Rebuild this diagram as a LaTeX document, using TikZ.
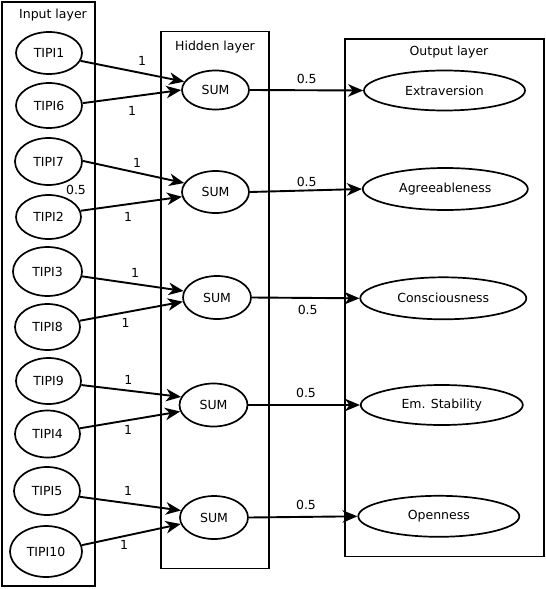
\documentclass[tikz,border=0pt]{standalone}
\usepackage{fontspec}
\setmainfont{DejaVu Sans}
\usetikzlibrary{shapes.geometric,arrows.meta}
\begin{document}
\begin{tikzpicture}[x=1pt,y=-1pt,
  every node/.style={font=\fontsize{12.5}{14}\selectfont},
  ell/.style={draw,ellipse,line width=1.7pt,inner sep=0pt},
  layerbox/.style={draw,line width=1.9pt},
  conn/.style={line width=1.9pt,-{Stealth[length=15pt,width=12.5pt,inset=4.5pt]}},
  wt/.style={inner sep=0pt}]
\useasboundingbox (0,0) rectangle (546,589);
% layer boxes
\draw[layerbox] (2,2) rectangle (95,586);
\draw[layerbox] (161,31.5) rectangle (269,568.5);
\draw[layerbox] (345,39) rectangle (544,556.5);
\node (tin) at (53,15) {Input layer};
\node (thid) at (215,47) {Hidden layer};
\node (tout) at (449,52.5) {Output layer};
% input nodes
\node[ell,minimum width=66pt,minimum height=42pt] (in1) at (49,53) {TIPI1};
\node[ell,minimum width=66pt,minimum height=45pt] (in6) at (49,105.5) {TIPI6};
\node[ell,minimum width=67pt,minimum height=47pt] (in7) at (48.5,161.5) {TIPI7};
\node[ell,minimum width=65pt,minimum height=44pt] (in2) at (48.5,217) {TIPI2};
\node[ell,minimum width=69pt,minimum height=49pt] (in3) at (47.5,271.5) {TIPI3};
\node[ell,minimum width=65pt,minimum height=46pt] (in8) at (47.5,327) {TIPI8};
\node[ell,minimum width=65pt,minimum height=46pt] (in9) at (48.5,381) {TIPI9};
\node[ell,minimum width=65pt,minimum height=47pt] (in4) at (47.5,434) {TIPI4};
\node[ell,minimum width=66pt,minimum height=48pt] (in5) at (47,491) {TIPI5};
\node[ell,minimum width=72pt,minimum height=51pt] (in10) at (46,551.5) {TIPI10};
% hidden nodes
\node[ell,minimum width=67pt,minimum height=39pt] (s1) at (215.5,90) {SUM};
\node[ell,minimum width=67pt,minimum height=42pt] (s2) at (215.5,192) {SUM};
\node[ell,minimum width=68pt,minimum height=43pt] (s3) at (217,297.5) {SUM};
\node[ell,minimum width=68pt,minimum height=43pt] (s4) at (213.5,405) {SUM};
\node[ell,minimum width=68pt,minimum height=43pt] (s5) at (214,517.5) {SUM};
% output nodes
\node[ell,minimum width=161pt,minimum height=40pt] (o1) at (444.5,90.5) {Extraversion};
\node[ell,minimum width=165pt,minimum height=42pt] (o2) at (445.3,189) {Agreeableness};
\node[ell,minimum width=166pt,minimum height=42pt] (o3) at (443.3,298.3) {Consciousness};
\node[ell,minimum width=162pt,minimum height=40pt] (o4) at (441.8,405) {Em. Stability};
\node[ell,minimum width=161pt,minimum height=41pt] (o5) at (438.8,516.3) {Openness};
% input -> hidden
\draw[conn] (in1.-14) -- (s1.165);
\draw[conn] (in6.4) -- (s1.180);
\draw[conn] (in7.1) -- (s2.164);
\draw[conn] (in2.11) -- (s2.188);
\draw[conn] (in3.-8) -- (s3.169);
\draw[conn] (in8.11) -- (s3.187);
\draw[conn] (in9.-7) -- (s4.166);
\draw[conn] (in4.10) -- (s4.191);
\draw[conn] (in5.-10) -- (s5.168);
\draw[conn] (in10.10) -- (s5.191);
% hidden -> output
\draw[conn] (s1.east) -- (o1.west);
\draw[conn] (s2.east) -- (o2.west);
\draw[conn] (s3.east) -- (o3.west);
\draw[conn] (s4.east) -- (o4.west);
\draw[conn] (s5.east) -- (o5.west);
% weights
\node[wt] (w1) at (142,61) {1};
\node[wt] (w6) at (132,111) {1};
\node[wt] (w7) at (137,163) {1};
\node[wt] (w2) at (128,217) {1};
\node[wt] (w3) at (135,273) {1};
\node[wt] (w8) at (125.7,322.7) {1};
\node[wt] (w9) at (128.3,380) {1};
\node[wt] (w4) at (128,430) {1};
\node[wt] (w5) at (128,491) {1};
\node[wt] (w10) at (124,545) {1};
\node[wt] (wx) at (76,190) {0.5};
\node[wt] (v1) at (306.7,79.3) {0.5};
\node[wt] (v2) at (306.7,181.7) {0.5};
\node[wt] (v3) at (307.7,310) {0.5};
\node[wt] (v4) at (306,392.7) {0.5};
\node[wt] (v5) at (306,505) {0.5};
\end{tikzpicture}
\end{document}
